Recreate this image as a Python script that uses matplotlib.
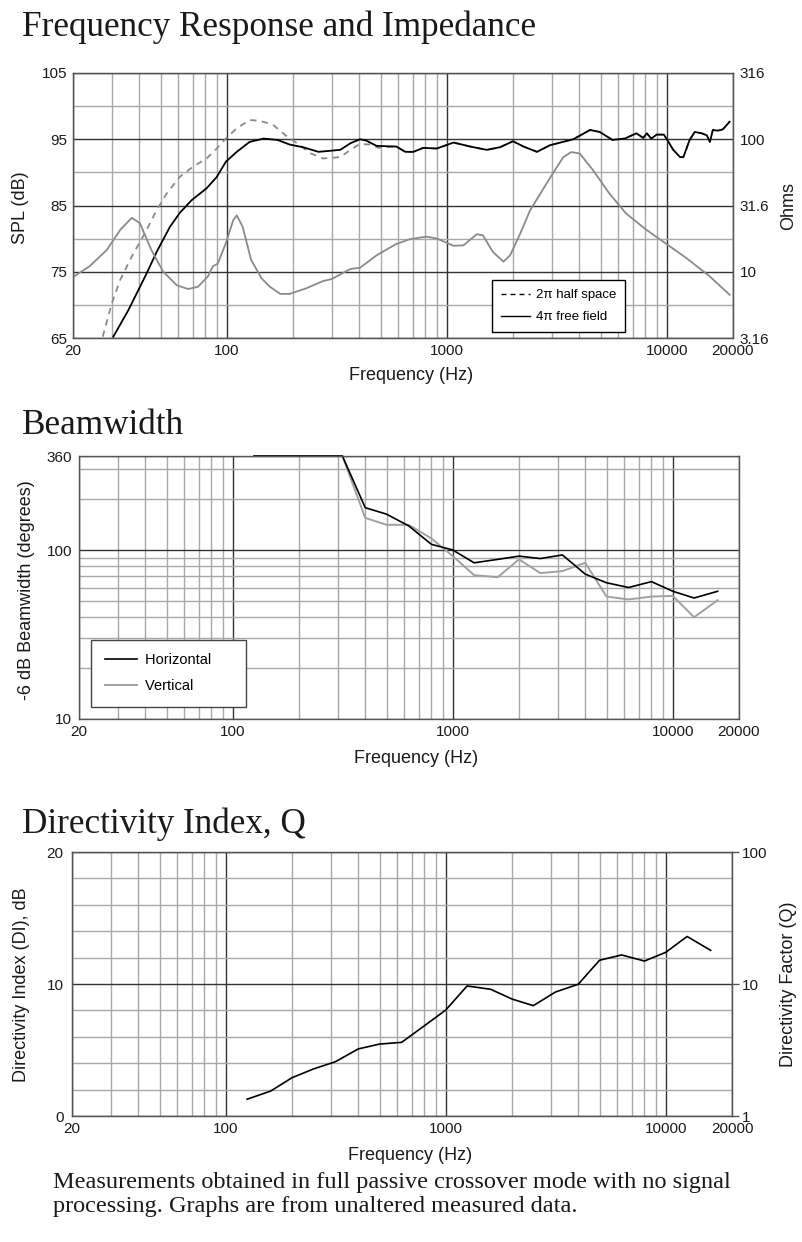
import numpy as np
import matplotlib
matplotlib.use('Agg')
import matplotlib.pyplot as plt
from matplotlib.lines import Line2D
from matplotlib.ticker import LogLocator, MultipleLocator, NullLocator

plt.rcParams['font.family'] = ['Liberation Sans', 'DejaVu Sans']
SERIF = 'Liberation Serif'

# ---------------- data ----------------
x_ticks = [20, 100, 1000, 10000, 20000]
x_ticklabels = ['20', '100', '1000', '10000', '20000']

# frequency response, 4pi free field (dB)
free_freq = [30.5, 35.7, 43.3, 48, 55.2, 61.2, 69.2, 81, 90, 99, 111, 127, 147, 170,
             193, 222, 261, 328, 365, 403, 430, 480, 590, 648, 705, 782, 900, 1074,
             1278, 1520, 1748, 2000, 2232, 2570, 2946, 3760, 4480, 4960, 5660, 6440,
             7280, 7810, 8120, 8500, 9000, 9700, 10050, 10700, 11500, 11900, 12700,
             13400, 14400, 15200, 15700, 16200, 17100, 18000, 19300]
free_spl = [65.2, 69.2, 74.8, 78.0, 81.8, 83.9, 85.8, 87.6, 89.3, 91.6, 93.1, 94.6, 95.1, 94.9,
            94.2, 93.8, 93.1, 93.4, 94.4, 95.0, 94.8, 94.0, 93.9, 93.1, 93.1, 93.7, 93.6, 94.5,
            93.9, 93.4, 93.8, 94.7, 93.9, 93.1, 94.1, 95.0, 96.4, 96.1, 94.9, 95.1,
            95.9, 95.2, 95.9, 95.1, 95.7, 95.7, 94.9, 93.4, 92.3, 92.3, 94.9,
            96.1, 95.9, 95.6, 94.6, 96.4, 96.3, 96.5, 97.65]

# frequency response, 2pi half space (dB), low range; above ~500 Hz it lies on the 4pi curve
half_freq = [27.3, 30, 32.8, 37, 42.4, 48, 53.3, 61, 70.5, 81, 90, 99, 111, 127, 141,
             162, 185, 215, 239, 274, 328, 365, 403, 445, 490]
half_spl = [65.2, 70.2, 73.8, 77.3, 80.8, 84.3, 86.8, 89.3, 90.9, 92.1, 93.6, 95.1, 96.65,
            97.9, 97.8, 97.2, 95.6, 94.1, 92.9, 92.1, 92.3, 93.4, 94.3, 94.2, 93.7]

# impedance (ohms)
imp_freq = [20, 23.8, 28.5, 32.8, 37, 40.3, 45.4, 51.4, 59.3, 66.8, 74, 82, 86.5, 91, 99,
            107, 111, 118, 129, 144, 157, 175, 193, 230, 274, 300, 365, 403, 480, 590,
            680, 808, 900, 1074, 1190, 1370, 1460, 1620, 1810, 1940, 2160, 2390, 2946,
            3380, 3680, 4020, 4600, 5480, 6530, 8080, 9860, 12340, 15700, 19300]
imp_ohm = [9.1, 11.0, 14.6, 20.7, 25.5, 23.2, 14.6, 10.0, 7.9, 7.4, 7.7, 9.2, 11.0, 11.5, 16.4,
           24.5, 26.6, 21.9, 12.3, 8.9, 7.7, 6.8, 6.8, 7.5, 8.5, 8.8, 10.5, 10.7, 13.3, 16.2,
           17.6, 18.4, 17.8, 15.7, 15.8, 19.2, 18.8, 14.1, 11.9, 13.3, 19.5, 29.0, 51.0,
           73.0, 80.0, 78.0, 59.0, 39.0, 27.5, 20.7, 16.4, 12.6, 9.2, 6.7]

# beamwidth (degrees), 1/3 octave bands
band_freq = [125, 160, 200, 250, 315, 400, 500, 630, 800, 1000, 1250, 1600, 2000, 2500,
             3150, 4000, 5000, 6300, 8000, 10000, 12500, 16000]
beam_h = [360, 360, 360, 360, 360, 178, 163, 139, 108, 100, 84, 88, 92, 89,
          93.5, 72, 64, 60, 65, 57, 52, 57]
beam_v = [360, 360, 360, 360, 360, 155, 141, 141, 117, 92, 71, 69, 88, 73,
          75, 84, 53, 51, 53, 53.5, 40, 50.5]

# directivity index (dB)
di_db = [1.27, 1.89, 2.9, 3.56, 4.11, 5.08, 5.45, 5.58, 6.84, 8.03, 9.85, 9.6, 8.86, 8.36,
         9.39, 9.98, 11.8, 12.2, 11.74, 12.4, 13.6, 12.55]

# ---------------- style ----------------
MINOR = '#a8a8a8'
MAJOR = '#333333'
SPINE = '#555555'
TXT = '#1a1a1a'
GRAY = '#8a8a8a'
LIGHT = '#a0a0a0'
TICK_FS = 11
W, H = 802, 1242


def box(l, t, r, b):
    return [l / W, 1 - b / H, (r - l) / W, (b - t) / H]


def style(ax):
    ax.set_xscale('log')
    ax.set_xlim(20, 20000)
    ax.set_xticks(x_ticks, x_ticklabels)
    ax.xaxis.set_minor_locator(LogLocator(base=10, subs=np.arange(2, 10), numticks=20))
    ax.grid(which='minor', color=MINOR, lw=1.0)
    ax.grid(which='major', color=MAJOR, lw=1.0)
    ax.set_axisbelow(True)
    ax.tick_params(which='both', length=0, labelsize=TICK_FS, colors=TXT)
    ax.tick_params(axis='x', pad=4.5)
    ax.tick_params(axis='y', pad=4)
    for s in ax.spines.values():
        s.set_color(SPINE)
        s.set_linewidth(1.0)
    ax.set_xlabel('Frequency (Hz)', fontsize=13, color=TXT)
    ax.xaxis.set_label_coords(0.512, -0.11)


fig = plt.figure(figsize=(W / 100, H / 100), dpi=100)

# ---------------- Frequency response and impedance ----------------
ax1 = fig.add_axes(box(73, 73, 733, 338))
style(ax1)
ax1.set_ylim(65, 105)
ax1.set_yticks([65, 75, 85, 95, 105])
ax1.yaxis.set_minor_locator(MultipleLocator(5))
half_all_f = half_freq + [f for f in free_freq if f > 550]
half_all_s = half_spl + [s for f, s in zip(free_freq, free_spl) if f > 550]
ax1.plot(half_all_f, half_all_s, color=GRAY, lw=1.3, ls=(0, (3.5, 3)))
ax1.plot(free_freq, free_spl, color='black', lw=1.3)
ax1.set_ylabel('SPL (dB)', fontsize=13, color=TXT)
ax1.yaxis.set_label_coords(-0.066, 0.49)

ax1r = ax1.twinx()
ax1r.set_yscale('log')
ax1r.set_ylim(3.16, 316)
ax1r.set_yticks([3.16, 10, 31.6, 100, 316], ['3.16', '10', '31.6', '100', '316'])
ax1r.yaxis.set_minor_locator(NullLocator())
ax1r.tick_params(which='both', length=0, labelsize=TICK_FS, colors=TXT, pad=5)
ax1r.plot(imp_freq, imp_ohm, color=GRAY, lw=1.3)
for s in ax1r.spines.values():
    s.set_color(SPINE)
ax1r.set_ylabel('Ohms', fontsize=13, color=TXT)
ax1r.yaxis.set_label_coords(1.071, 0.5)
handles = [Line2D([], [], color='black', lw=1.0, ls=(0, (3.5, 3))),
           Line2D([], [], color='black', lw=1.0)]
leg = ax1r.legend(handles, ['2\u03c0 half space', '4\u03c0 free field'], loc='lower left',
                  bbox_to_anchor=(0.635, 0.023), borderaxespad=0, fontsize=9.5,
                  handlelength=2.2, handletextpad=0.5, labelspacing=0.75, borderpad=0.65,
                  fancybox=False, framealpha=1)
leg.get_frame().set_edgecolor('black')
leg.get_frame().set_linewidth(1.0)

# ---------------- Beamwidth ----------------
ax2 = fig.add_axes(box(79, 456, 739, 719))
style(ax2)
ax2.set_yscale('log')
ax2.set_ylim(10, 360)
ax2.set_yticks([10, 100, 360], ['10', '100', '360'])
ax2.yaxis.set_minor_locator(LogLocator(base=10, subs=np.arange(2, 10), numticks=20))
ax2.yaxis.set_minor_formatter(plt.NullFormatter())
ax2.tick_params(axis='y', pad=5)
ax2.xaxis.set_label_coords(0.511, -0.118)
ax2.plot(band_freq, beam_v, color=LIGHT, lw=1.4, label='Vertical', clip_on=False)
ax2.plot(band_freq, beam_h, color='black', lw=1.2, label='Horizontal', clip_on=False)
ax2.set_ylabel('-6 dB Beamwidth (degrees)', fontsize=13, color=TXT)
ax2.yaxis.set_label_coords(-0.067, 0.49)
h2, l2 = ax2.get_legend_handles_labels()
leg2 = ax2.legend(h2[::-1], [t + '     ' for t in l2[::-1]], loc='lower left',
                  bbox_to_anchor=(0.018, 0.046), borderaxespad=0, fontsize=10.5,
                  handlelength=2.2, handletextpad=0.55, labelspacing=0.8, borderpad=0.95,
                  fancybox=False, framealpha=1)
leg2.get_frame().set_edgecolor('#444444')
leg2.get_frame().set_linewidth(1.0)

# ---------------- Directivity index ----------------
ax3 = fig.add_axes(box(72, 852, 732, 1116))
style(ax3)
ax3.set_ylim(0, 20)
ax3.set_yticks([0, 10, 20])
ax3.yaxis.set_minor_locator(MultipleLocator(2))
ax3.tick_params(axis='y', pad=6)
ax3.xaxis.set_label_coords(0.512, -0.117)
ax3.plot(band_freq, di_db, color='black', lw=1.2)
ax3.set_ylabel('Directivity Index (DI), dB', fontsize=13, color=TXT)
ax3.yaxis.set_label_coords(-0.064, 0.496)

ax3r = ax3.twinx()
ax3r.set_yscale('log')
ax3r.set_ylim(1, 100)
ax3r.set_yticks([1, 10, 100], ['1', '10', '100'])
ax3r.yaxis.set_minor_locator(NullLocator())
ax3r.tick_params(axis='y', length=5, width=1.0, color=SPINE, labelsize=TICK_FS,
                 labelcolor=TXT, pad=2)
for s in ax3r.spines.values():
    s.set_color(SPINE)
ax3r.set_ylabel('Directivity Factor (Q)', fontsize=13, color=TXT)
ax3r.yaxis.set_label_coords(1.073, 0.5)

# ---------------- titles and note ----------------
fig.text(22 / W, 1 - 36 / H, 'Frequency Response and Impedance', family=SERIF, fontsize=25.3,
         color=TXT, va='baseline')
fig.text(22 / W, 1 - 434 / H, 'Beamwidth', family=SERIF, fontsize=25.3, color=TXT,
         va='baseline')
fig.text(22 / W, 1 - 833 / H, 'Directivity Index, Q', family=SERIF, fontsize=25.3, color=TXT,
         va='baseline')
fig.text(53 / W, 1 - 1188 / H,
         'Measurements obtained in full passive crossover mode with no signal',
         family=SERIF, fontsize=17.5, color=TXT, va='baseline')
fig.text(53 / W, 1 - 1212 / H, 'processing. Graphs are from unaltered measured data.',
         family=SERIF, fontsize=17.5, color=TXT, va='baseline')

fig.savefig('out.png', dpi=100)
